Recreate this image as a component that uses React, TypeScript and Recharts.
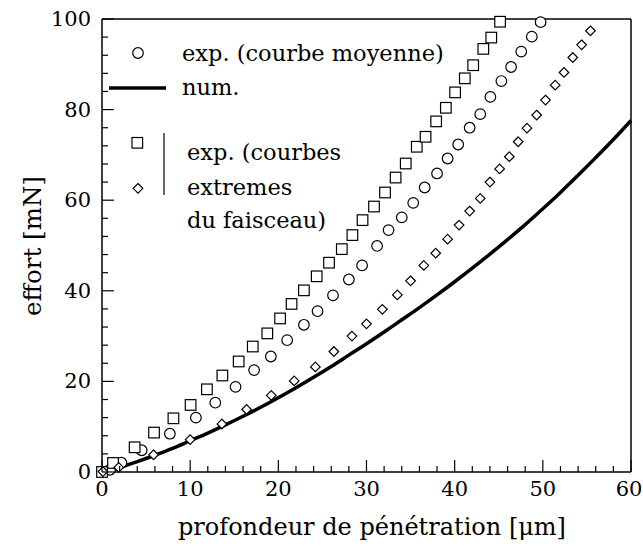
import React from "react";
import { ComposedChart, Scatter, Line, XAxis, YAxis } from "recharts";

const FONT = "'DejaVu Serif', serif";

// axis ticks (major every 10 / 20, minor in between)
const xTicks = [0, 2, 4, 6, 8, 10, 12, 14, 16, 18, 20, 22, 24, 26, 28, 30, 32, 34, 36, 38, 40, 42, 44, 46, 48, 50, 52, 54, 56, 58, 60];
const yTicks = [0, 4, 8, 12, 16, 20, 24, 28, 32, 36, 40, 44, 48, 52, 56, 60, 64, 68, 72, 76, 80, 84, 88, 92, 96, 100];

// num. (solid curve)
const numX = [0, 2, 4, 6, 8, 10, 12, 14, 16, 18, 20, 22, 24, 26, 28, 30, 32, 34, 36, 38, 40, 42, 44, 46, 48, 50, 52, 54, 56, 58, 60];
const numY = [0, 1.0, 2.3, 3.7, 5.2, 6.9, 8.6, 10.4, 12.3, 14.3, 16.4, 18.6, 20.9, 23.3, 25.8, 28.3, 30.9, 33.6, 36.3, 39.1, 42.0, 45.0, 48.1, 51.3, 54.6, 58.1, 61.7, 65.5, 69.4, 73.4, 77.6];

// exp. (courbe moyenne) - circles
const moyX = [0.9, 2.2, 4.5, 7.7, 10.65, 12.85, 15.15, 17.25, 19.15, 21.0, 22.9, 24.45, 26.2, 28.0, 29.5, 31.2, 32.5, 34.0, 35.3, 36.6, 38.0, 39.2, 40.4, 41.7, 42.9, 44.05, 45.3, 46.4, 47.55, 48.75, 49.75];
const moyY = [0.5, 2.05, 4.8, 8.45, 12.0, 15.3, 18.8, 22.5, 25.5, 29.1, 32.5, 35.5, 39.0, 42.5, 45.6, 49.9, 53.4, 56.2, 59.4, 62.8, 65.9, 69.2, 72.3, 76.0, 79.0, 82.8, 86.3, 89.4, 92.8, 96.1, 99.3];

// exp. courbe extreme haute - squares
const hautX = [0, 1.25, 3.7, 5.9, 8.1, 10.05, 11.9, 13.65, 15.5, 17.1, 18.75, 20.2, 21.5, 22.9, 24.35, 25.75, 27.2, 28.4, 29.55, 30.85, 32.1, 33.3, 34.45, 35.7, 36.7, 37.9, 39.0, 40.05, 41.15, 42.1, 43.25, 44.15, 45.15];
const hautY = [0, 2.0, 5.45, 8.7, 11.85, 14.8, 18.25, 21.3, 24.4, 27.7, 30.6, 33.9, 37.1, 40.1, 43.2, 46.2, 49.2, 52.3, 55.6, 58.6, 61.7, 65.0, 68.1, 71.8, 74.0, 77.4, 80.4, 83.8, 86.9, 89.8, 93.4, 95.9, 99.4];

// exp. courbe extreme basse - diamonds
const basX = [0.1, 1.9, 5.85, 10.0, 13.6, 16.4, 19.2, 21.8, 24.2, 26.3, 28.35, 30.0, 31.8, 33.5, 35.0, 36.5, 37.85, 39.2, 40.5, 41.7, 42.9, 44.0, 45.1, 46.2, 47.2, 48.2, 49.3, 50.3, 51.4, 52.4, 53.4, 54.4, 55.4];
const basY = [0.1, 1.0, 3.8, 7.15, 10.6, 13.8, 16.9, 20.1, 23.2, 26.6, 30.0, 32.7, 35.9, 39.1, 42.2, 45.6, 48.3, 51.4, 54.5, 57.6, 60.4, 64.0, 66.9, 69.6, 72.9, 75.9, 78.8, 82.1, 85.4, 88.2, 91.5, 94.3, 97.4];

const zip = (xs: number[], ys: number[]) => xs.map((x, i) => ({ x, y: ys[i] }));

const numData = zip(numX, numY);
const moyData = zip(moyX, moyY);
const hautData = zip(hautX, hautY);
const basData = zip(basX, basY);

const W = 643;
const H = 548;
const txt = { fontFamily: FONT };

const BottomTick = (p: any) => {
  const v = p.payload.value;
  const major = v % 10 === 0;
  // keep the last label inside the page
  const tx = v === 60 ? p.x - 2 : p.x;
  return (
    <g>
      <line x1={p.x} x2={p.x} y1={p.y} y2={p.y - (major ? 12 : 6)} stroke="#000" strokeWidth={1.2} />
      {major && (
        <text x={tx} y={p.y + 17} textAnchor="middle" dominantBaseline="central" style={txt} fontSize={21} fill="#000">
          {v}
        </text>
      )}
    </g>
  );
};

const TopTick = (p: any) => {
  const major = p.payload.value % 10 === 0;
  return <line x1={p.x} x2={p.x} y1={p.y} y2={p.y + (major ? 12 : 6)} stroke="#000" strokeWidth={1.2} />;
};

const LeftTick = (p: any) => {
  const v = p.payload.value;
  const major = v % 20 === 0;
  return (
    <g>
      <line x1={p.x} x2={p.x + (major ? 12 : 6)} y1={p.y} y2={p.y} stroke="#000" strokeWidth={1.2} />
      {major && (
        <text x={p.x - 11} y={p.y} textAnchor="end" dominantBaseline="central" style={txt} fontSize={21} fill="#000">
          {v}
        </text>
      )}
    </g>
  );
};

const RightTick = (p: any) => {
  const major = p.payload.value % 20 === 0;
  return <line x1={p.x} x2={p.x - (major ? 12 : 6)} y1={p.y} y2={p.y} stroke="#000" strokeWidth={1.2} />;
};

const Circ = (p: any) => <circle cx={p.cx} cy={p.cy} r={5.3} fill="#fff" stroke="#000" strokeWidth={1.2} />;
const Sq = (p: any) => <rect x={p.cx - 5.3} y={p.cy - 5.3} width={10.6} height={10.6} fill="#fff" stroke="#000" strokeWidth={1.2} />;
const Dia = (p: any) => (
  <path
    d={`M${p.cx},${p.cy - 4.8}L${p.cx + 4.8},${p.cy}L${p.cx},${p.cy + 4.8}L${p.cx - 4.8},${p.cy}Z`}
    fill="#fff"
    stroke="#000"
    strokeWidth={1.2}
  />
);

const axisLine = { stroke: "#000", strokeWidth: 1.5 };

export default function App() {
  return (
    <div style={{ position: "absolute", left: 0, top: 0, width: W, height: H, background: "#fff", fontFamily: FONT }}>
      <ComposedChart width={W} height={H} margin={{ top: 0, right: 0, bottom: 0, left: 0 }}>
        <XAxis xAxisId="b" type="number" dataKey="x" domain={[0, 60]} ticks={xTicks} interval={0}
          tickLine={false} tickSize={0} tickMargin={0} tick={BottomTick} axisLine={axisLine} height={76} />
        <XAxis xAxisId="t" orientation="top" type="number" dataKey="x" domain={[0, 60]} ticks={xTicks} interval={0}
          tickLine={false} tickSize={0} tickMargin={0} tick={TopTick} axisLine={axisLine} height={19} />
        <YAxis yAxisId="l" type="number" dataKey="y" domain={[0, 100]} ticks={yTicks} interval={0}
          tickLine={false} tickSize={0} tickMargin={0} tick={LeftTick} axisLine={axisLine} width={102} />
        <YAxis yAxisId="r" orientation="right" type="number" dataKey="y" domain={[0, 100]} ticks={yTicks} interval={0}
          tickLine={false} tickSize={0} tickMargin={0} tick={RightTick} axisLine={axisLine} width={12} />

        <Line xAxisId="b" yAxisId="l" data={numData} dataKey="y" type="monotone" stroke="#000" strokeWidth={3.5}
          dot={false} activeDot={false} isAnimationActive={false} />
        <Scatter xAxisId="b" yAxisId="l" data={moyData} dataKey="y" shape={Circ} isAnimationActive={false} />
        <Scatter xAxisId="b" yAxisId="l" data={hautData} dataKey="y" shape={Sq} isAnimationActive={false} />
        <Scatter xAxisId="b" yAxisId="l" data={basData} dataKey="y" shape={Dia} isAnimationActive={false} />
        <Scatter xAxisId="t" yAxisId="r" data={[]} dataKey="y" isAnimationActive={false} />
      </ComposedChart>

      <svg width={W} height={H} style={{ position: "absolute", left: 0, top: 0, pointerEvents: "none", fontFamily: FONT }}
        fill="#000">
        {/* legend */}
        <circle cx={138} cy={53} r={5.3} fill="#fff" stroke="#000" strokeWidth={1.2} />
        <text x={182} y={53} style={txt} fontSize={22.5} dominantBaseline="central">exp. (courbe moyenne)</text>
        <line x1={109} x2={166} y1={88} y2={88} stroke="#000" strokeWidth={3.5} />
        <text x={182} y={87} style={txt} fontSize={22.5} dominantBaseline="central">num.</text>
        <rect x={132} y={137.5} width={10.6} height={10.6} fill="#fff" stroke="#000" strokeWidth={1.2} />
        <path d="M138,183.5L142.8,188.3L138,193.1L133.2,188.3Z" fill="#fff" stroke="#000" strokeWidth={1.2} />
        <line x1={164} x2={164} y1={133} y2={195} stroke="#000" strokeWidth={1.2} />
        <text x={187} y={152} style={txt} fontSize={22.5} dominantBaseline="central">exp. (courbes</text>
        <text x={187} y={187} style={txt} fontSize={22.5} dominantBaseline="central">extremes</text>
        <text x={187} y={220} style={txt} fontSize={22.5} dominantBaseline="central">du faisceau)</text>

        {/* axis titles */}
        <text x={372} y={527} style={txt} fontSize={24} textAnchor="middle" dominantBaseline="central">
          profondeur de pénétration [μm]
        </text>
        <text x={0} y={0} style={txt} fontSize={24.5} textAnchor="middle" dominantBaseline="central"
          transform="translate(32,246) rotate(-90)">
          effort [mN]
        </text>
      </svg>
    </div>
  );
}
